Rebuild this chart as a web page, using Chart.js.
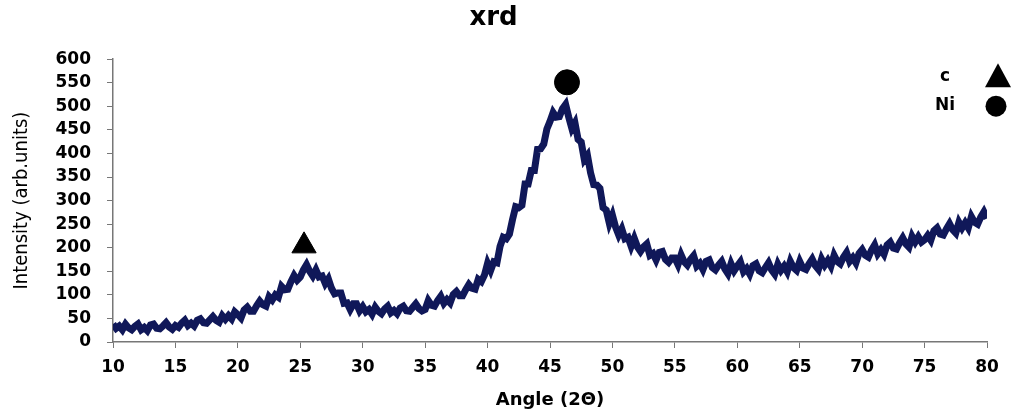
<!DOCTYPE html>
<html>
<head>
<meta charset="utf-8">
<script src="https://cdn.jsdelivr.net/npm/chart.js@4.4.1/dist/chart.umd.min.js"></script>
<style>
  html, body { margin: 0; padding: 0; background: #fff; }
</style>
</head>
<body>
<canvas id="xrd" width="1014" height="414"></canvas>
<script>
const angles = [
  10, 10.25, 10.5, 10.75, 11, 11.25, 11.5, 11.75, 12, 12.25, 12.5, 12.75, 13, 13.25, 13.5, 13.75, 14, 14.25, 14.5, 14.75,
  15, 15.25, 15.5, 15.75, 16, 16.25, 16.5, 16.75, 17, 17.25, 17.5, 17.75, 18, 18.25, 18.5, 18.75, 19, 19.25, 19.5, 19.75,
  20, 20.25, 20.5, 20.75, 21, 21.25, 21.5, 21.75, 22, 22.25, 22.5, 22.75, 23, 23.25, 23.5, 23.75, 24, 24.25, 24.5, 24.75,
  25, 25.25, 25.5, 25.75, 26, 26.25, 26.5, 26.75, 27, 27.25, 27.5, 27.75, 28, 28.25, 28.5, 28.75, 29, 29.25, 29.5, 29.75,
  30, 30.25, 30.5, 30.75, 31, 31.25, 31.5, 31.75, 32, 32.25, 32.5, 32.75, 33, 33.25, 33.5, 33.75, 34, 34.25, 34.5, 34.75,
  35, 35.25, 35.5, 35.75, 36, 36.25, 36.5, 36.75, 37, 37.25, 37.5, 37.75, 38, 38.25, 38.5, 38.75, 39, 39.25, 39.5, 39.75,
  40, 40.25, 40.5, 40.75, 41, 41.25, 41.5, 41.75, 42, 42.25, 42.5, 42.75, 43, 43.25, 43.5, 43.75, 44, 44.25, 44.5, 44.75,
  45, 45.25, 45.5, 45.75, 46, 46.25, 46.5, 46.75, 47, 47.25, 47.5, 47.75, 48, 48.25, 48.5, 48.75, 49, 49.25, 49.5, 49.75,
  50, 50.25, 50.5, 50.75, 51, 51.25, 51.5, 51.75, 52, 52.25, 52.5, 52.75, 53, 53.25, 53.5, 53.75, 54, 54.25, 54.5, 54.75,
  55, 55.25, 55.5, 55.75, 56, 56.25, 56.5, 56.75, 57, 57.25, 57.5, 57.75, 58, 58.25, 58.5, 58.75, 59, 59.25, 59.5, 59.75,
  60, 60.25, 60.5, 60.75, 61, 61.25, 61.5, 61.75, 62, 62.25, 62.5, 62.75, 63, 63.25, 63.5, 63.75, 64, 64.25, 64.5, 64.75,
  65, 65.25, 65.5, 65.75, 66, 66.25, 66.5, 66.75, 67, 67.25, 67.5, 67.75, 68, 68.25, 68.5, 68.75, 69, 69.25, 69.5, 69.75,
  70, 70.25, 70.5, 70.75, 71, 71.25, 71.5, 71.75, 72, 72.25, 72.5, 72.75, 73, 73.25, 73.5, 73.75, 74, 74.25, 74.5, 74.75,
  75, 75.25, 75.5, 75.75, 76, 76.25, 76.5, 76.75, 77, 77.25, 77.5, 77.75, 78, 78.25, 78.5, 78.75, 79, 79.25, 79.5, 79.75,
  80
];
const intensity = [
  38, 29, 34, 26, 38, 30, 26, 33, 38, 26, 31, 24, 36, 38, 29, 28, 34, 41, 32, 27,
  35, 31, 40, 46, 35, 40, 34, 46, 49, 41, 40, 47, 54, 46, 42, 56, 48, 56, 49, 64,
  58, 51, 68, 74, 65, 65, 77, 87, 79, 76, 96, 89, 100, 95, 118, 111, 112, 128, 141, 131,
  138, 153, 164, 150, 140, 153, 138, 140, 124, 134, 114, 102, 104, 104, 82, 83, 69, 81, 81, 66,
  75, 64, 69, 59, 74, 65, 60, 70, 76, 62, 67, 60, 72, 76, 66, 65, 73, 81, 71, 66,
  69, 88, 78, 76, 88, 97, 82, 90, 83, 101, 107, 98, 98, 111, 122, 114, 112, 133, 128, 142,
  167, 152, 170, 168, 203, 222, 219, 229, 260, 287, 285, 290, 335, 335, 364, 364, 409, 410, 420, 452,
  468, 487, 477, 478, 495, 504, 477, 453, 465, 430, 424, 387, 396, 359, 334, 333, 326, 285, 280, 252,
  269, 244, 227, 240, 219, 222, 203, 220, 202, 192, 202, 208, 184, 188, 174, 190, 192, 175, 169, 178,
  178, 164, 185, 170, 163, 175, 183, 161, 167, 154, 171, 174, 158, 153, 163, 171, 155, 145, 166, 151,
  161, 170, 149, 156, 144, 162, 166, 151, 147, 158, 168, 153, 144, 165, 152, 161, 149, 171, 158, 152,
  171, 157, 154, 166, 176, 162, 154, 176, 163, 173, 161, 184, 171, 166, 180, 190, 171, 179, 168, 188,
  196, 184, 180, 195, 206, 187, 196, 186, 206, 212, 199, 197, 210, 221, 208, 201, 224, 212, 223, 212,
  217, 226, 216, 236, 242, 229, 227, 240, 251, 238, 231, 254, 242, 253, 242, 266, 254, 250, 265, 276,
  262
];
// peak markers
const carbonPeak = [{ x: 25.3, y: 204 }];
const nickelPeak = [{ x: 46.36, y: 551 }];
const legendItems = [
  { label: "c", shape: "triangle" },
  { label: "Ni", shape: "circle" },
];

const NAVY = "#101859";
const FONT = "'DejaVu Sans', sans-serif";

// phase key at the top right (text first, symbol after)
const phaseKey = {
  id: "phaseKey",
  afterDraw(chart) {
    const ctx = chart.ctx;
    const a = chart.chartArea;
    ctx.save();
    ctx.fillStyle = "#000";
    ctx.font = "bold 17px " + FONT;
    ctx.textAlign = "center";
    ctx.textBaseline = "middle";
    legendItems.forEach((it, i) => {
      const y = a.top + 17 + i * 29;
      ctx.fillText(it.label, a.right - 42, y);
      const sx = a.right + 11;
      ctx.beginPath();
      if (it.shape === "triangle") {
        ctx.moveTo(sx, y - 13);
        ctx.lineTo(sx + 13, y + 11);
        ctx.lineTo(sx - 13, y + 11);
        ctx.closePath();
      } else {
        ctx.arc(sx - 2, y + 1, 10.5, 0, Math.PI * 2);
      }
      ctx.fill();
    });
    ctx.restore();
  },
};

new Chart(document.getElementById("xrd").getContext("2d"), {
  type: "line",
  data: {
    datasets: [
      {
        type: "scatter",
        data: carbonPeak,
        pointStyle: "triangle",
        pointRadius: 14,
        backgroundColor: "#000",
        borderColor: "#000",
        clip: false,
        order: 1,
      },
      {
        type: "scatter",
        data: nickelPeak,
        pointStyle: "circle",
        pointRadius: 12.5,
        backgroundColor: "#000",
        borderColor: "#000",
        clip: false,
        order: 1,
      },
      {
        data: angles.map((a, i) => ({ x: a, y: intensity[i] })),
        borderColor: NAVY,
        borderWidth: 7,
        borderJoinStyle: "miter",
        borderCapStyle: "butt",
        pointRadius: 0,
        tension: 0,
        order: 2,
      },
    ],
  },
  options: {
    responsive: false,
    animation: false,
    devicePixelRatio: 1,
    layout: { padding: { top: 0, right: 27, bottom: 0, left: 0 } },
    plugins: {
      legend: { display: false },
      tooltip: { enabled: false },
      title: {
        display: true,
        text: "xrd",
        color: "#000",
        font: { family: FONT, size: 26, weight: "bold" },
        padding: { top: 3, bottom: 25 },
      },
    },
    scales: {
      x: {
        type: "linear",
        min: 10,
        max: 80,
        ticks: { stepSize: 5, color: "#000", font: { family: FONT, size: 17, weight: "bold" }, padding: 9, maxRotation: 0 },
        grid: { drawOnChartArea: false, tickLength: 6, color: "#777" },
        border: { color: "#777", width: 1.5 },
        title: {
          display: true,
          text: "Angle (2Θ)",
          color: "#000",
          font: { family: FONT, size: 18, weight: "bold" },
          padding: { top: 4, bottom: 3 },
        },
        afterFit: (s) => { s.height = 72; },
      },
      y: {
        min: 0,
        max: 600,
        ticks: { stepSize: 50, color: "#000", font: { family: FONT, size: 17, weight: "bold" }, padding: 16 },
        grid: { drawOnChartArea: false, tickLength: 6, color: "#777" },
        border: { color: "#777", width: 1.5 },
        title: {
          display: true,
          text: "Intensity (arb.units)",
          color: "#000",
          font: { family: "'Liberation Sans Narrow', 'DejaVu Sans Condensed', sans-serif", size: 20 },
          padding: { top: 10, bottom: 0 },
        },
        afterFit: (s) => { s.width = 113; },
      },
    },
  },
  plugins: [phaseKey],
});
</script>
</body>
</html>
